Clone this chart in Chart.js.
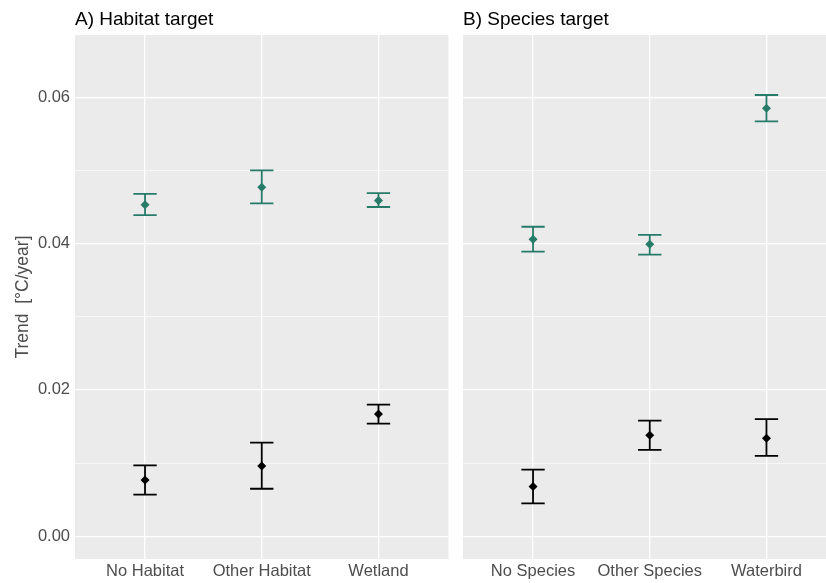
<!DOCTYPE html>
<html><head><meta charset="utf-8">
<script src="https://cdn.jsdelivr.net/npm/chart.js@4"></script>
<style>
html,body{margin:0;padding:0;background:#fff;overflow:hidden;width:826px;height:583px;}
#wrap{position:relative;width:826px;height:583px;overflow:hidden;}
#boxA{position:absolute;left:0;top:0;width:453px;height:583px;}
#boxB{position:absolute;left:455px;top:0;width:386px;height:583px;}
</style></head>
<body><div id="wrap"><div id="boxA"><canvas id="cA"></canvas></div><div id="boxB"><canvas id="cB"></canvas></div></div>
<script>
// ---- data ----
const habitatCats = ['No Habitat', 'Other Habitat', 'Wetland'];
const speciesCats = ['No Species', 'Other Species', 'Waterbird'];

const habitatGreen   = [0.0453, 0.0477, 0.0459];
const habitatGreenLo = [0.0439, 0.0455, 0.0450];
const habitatGreenHi = [0.0468, 0.0500, 0.0469];
const habitatBlack   = [0.0077, 0.0096, 0.0167];
const habitatBlackLo = [0.0057, 0.0065, 0.0154];
const habitatBlackHi = [0.0097, 0.0128, 0.0180];

const speciesGreen   = [0.0406, 0.0399, 0.0585];
const speciesGreenLo = [0.0389, 0.0385, 0.0567];
const speciesGreenHi = [0.0423, 0.0412, 0.0603];
const speciesBlack   = [0.0068, 0.0138, 0.0134];
const speciesBlackLo = [0.0045, 0.0118, 0.0110];
const speciesBlackHi = [0.0091, 0.0158, 0.0160];

const yTicks = [0, 0.01, 0.02, 0.03, 0.04, 0.05, 0.06];

// ---- style ----
const GREEN = '#277B69';
const BLACK = '#000000';
const PANEL_BG = '#EBEBEB';
const TXT = '#4D4D4D';
const FONT = 'Liberation Sans, Arial, Helvetica, sans-serif';
const CAP = 0.1;

const isMajor = v => Math.round(v * 100) % 2 === 0;

const panelBg = {
  id: 'panelBg',
  beforeDraw(chart) {
    const {ctx, chartArea: a} = chart;
    ctx.save();
    ctx.fillStyle = PANEL_BG;
    ctx.fillRect(a.left, a.top, a.right - a.left, a.bottom - a.top);
    ctx.restore();
  }
};

const errorBars = {
  id: 'errorBars',
  beforeDatasetsDraw(chart) {
    const {ctx, scales: {x, y}} = chart;
    ctx.save();
    ctx.lineWidth = 1.8;
    chart.data.datasets.forEach(ds => {
      ctx.strokeStyle = ds.borderColor;
      ds.data.forEach(p => {
        const px = x.getPixelForValue(p.x);
        const yl = y.getPixelForValue(p.lo), yh = y.getPixelForValue(p.hi);
        const cl = x.getPixelForValue(p.x - CAP), cr = x.getPixelForValue(p.x + CAP);
        ctx.beginPath();
        ctx.moveTo(px, yl); ctx.lineTo(px, yh);
        ctx.moveTo(cl, yl); ctx.lineTo(cr, yl);
        ctx.moveTo(cl, yh); ctx.lineTo(cr, yh);
        ctx.stroke();
      });
    });
    ctx.restore();
  }
};

const panelTitle = {
  id: 'panelTitle',
  afterDraw(chart, args, opts) {
    const {ctx, chartArea: a} = chart;
    ctx.save();
    ctx.fillStyle = '#000';
    ctx.font = '19px ' + FONT;
    ctx.textAlign = 'left';
    ctx.textBaseline = 'alphabetic';
    ctx.fillText(opts.text, a.left, a.top - 10);
    ctx.restore();
  }
};

function makeChart(id, cats, gMid, gLo, gHi, bMid, bLo, bHi, title, showY, padLeft, padRight) {
  const pts = (m, lo, hi) => m.map((v, i) => ({x: i + 1, y: v, lo: lo[i], hi: hi[i]}));
  return new Chart(document.getElementById(id), {
    type: 'scatter',
    data: {
      datasets: [
        {label: 'green', data: pts(gMid, gLo, gHi), borderColor: GREEN, backgroundColor: GREEN,
         pointStyle: 'rectRot', pointRadius: 4.5, pointBorderWidth: 0},
        {label: 'black', data: pts(bMid, bLo, bHi), borderColor: BLACK, backgroundColor: BLACK,
         pointStyle: 'rectRot', pointRadius: 4.5, pointBorderWidth: 0}
      ]
    },
    options: {
      responsive: true,
      maintainAspectRatio: false,
      animation: false,
      layout: {padding: {top: 35, bottom: 0, left: padLeft, right: padRight}},
      plugins: {legend: {display: false}, tooltip: {enabled: false}, panelTitle: {text: title}},
      scales: {
        x: {
          type: 'linear', min: 0.4, max: 3.6,
          afterBuildTicks: s => { s.ticks = cats.map((c, i) => ({value: i + 1})); },
          afterFit: s => { s.height = 24; },
          ticks: {callback: v => cats[Math.round(v) - 1], color: TXT, font: {family: FONT, size: 16.5},
                  padding: 3, autoSkip: false, maxRotation: 0},
          grid: {color: '#FFFFFF', lineWidth: 1.3, drawTicks: false},
          border: {display: false}
        },
        y: {
          type: 'linear', min: -0.0031, max: 0.0685,
          afterBuildTicks: s => { s.ticks = yTicks.map(v => ({value: v})); },
          afterFit: s => { s.width = showY ? 75 : 0; },
          ticks: {display: showY, callback: v => isMajor(v) ? v.toFixed(2) : '', color: TXT,
                  font: {family: FONT, size: 16.5}, padding: 5, autoSkip: false},
          grid: {color: '#FFFFFF', lineWidth: c => (c.tick && isMajor(c.tick.value)) ? 1.3 : 0.6, drawTicks: false},
          border: {display: false},
          title: {display: showY, text: 'Trend  [°C/year]', color: TXT, font: {family: FONT, size: 17.5},
                  padding: {top: 13, bottom: 0}}
        }
      }
    },
    plugins: [panelBg, errorBars, panelTitle]
  });
}

makeChart('cA', habitatCats, habitatGreen, habitatGreenLo, habitatGreenHi,
          habitatBlack, habitatBlackLo, habitatBlackHi, 'A) Habitat target', true, 0, 0);
makeChart('cB', speciesCats, speciesGreen, speciesGreenLo, speciesGreenHi,
          speciesBlack, speciesBlackLo, speciesBlackHi, 'B) Species target', false, 8, 0);
</script>
</body></html>
